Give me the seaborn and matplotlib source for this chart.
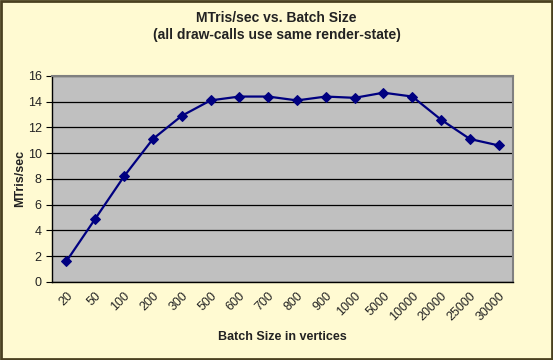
import numpy as np
import pandas as pd
import seaborn as sns
import matplotlib.pyplot as plt

batch_sizes = ["20", "50", "100", "200", "300", "500", "600", "700", "800",
               "900", "1000", "5000", "10000", "20000", "25000", "30000"]
mtris = [1.6, 4.9, 8.2, 11.1, 12.9, 14.1, 14.4, 14.4, 14.1, 14.4, 14.3,
         14.7, 14.4, 12.6, 11.1, 10.6]

df = pd.DataFrame({"Batch Size": batch_sizes, "MTris/sec": mtris})

sns.set_style("white")
plt.rcParams["font.family"] = ["Liberation Sans", "DejaVu Sans"]

fig = plt.figure(figsize=(5.53, 3.6), dpi=100, facecolor="#FFFAD2")
ax = fig.add_axes([0.094, 0.217, 0.834, 0.572])
ax.set_facecolor("#C0C0C0")

sns.lineplot(data=df, x="Batch Size", y="MTris/sec", sort=False, ax=ax,
             color="#000080", linewidth=1.6, marker="D", markersize=5,
             markeredgecolor="#000080")

ax.set_ylim(0, 16)
ax.set_yticks(np.arange(0, 17, 2))
ax.yaxis.grid(True, color="black", linewidth=0.9)
ax.set_axisbelow(True)

ax.set_xlim(-0.5, len(batch_sizes) - 0.5)
ax.set_xticks(range(len(batch_sizes)))
ax.set_xticklabels(batch_sizes, rotation=45, ha="right", rotation_mode="anchor",
                   fontsize=9, color="#222222")
ax.tick_params(axis="x", which="major", length=0, pad=6)
ax.set_xticks(np.arange(-0.5, len(batch_sizes)), minor=True)
ax.tick_params(axis="x", which="minor", length=4, color="black", direction="out")
ax.tick_params(axis="y", length=4, color="black", direction="out", labelsize=9,
               labelcolor="#222222", left=True)

for side in ["left", "bottom"]:
    ax.spines[side].set_color("black")
    ax.spines[side].set_linewidth(1.0)
for side in ["top", "right"]:
    ax.spines[side].set_color("#808080")
    ax.spines[side].set_linewidth(1.5)

ax.set_xlabel("Batch Size in vertices", fontsize=9, fontweight="bold",
              color="#222222")
ax.xaxis.set_label_coords(0.5, -0.24)
ax.set_ylabel("MTris/sec", fontsize=9, fontweight="bold", color="#222222")
ax.yaxis.set_label_coords(-0.056, 0.5)

fig.text(0.5, 0.95, "MTris/sec vs. Batch Size", ha="center", va="center",
         fontsize=10, fontweight="bold", color="#222222")
fig.text(0.5, 0.902, "(all draw-calls use same render-state)", ha="center",
         va="center", fontsize=10, fontweight="bold", color="#222222")

fig.patches.append(plt.Rectangle((0.002, 0.003), 0.996, 0.994,
                                 transform=fig.transFigure, fill=False,
                                 edgecolor="#4A4020", linewidth=2))

fig.savefig("out.png", dpi=100, facecolor=fig.get_facecolor())
